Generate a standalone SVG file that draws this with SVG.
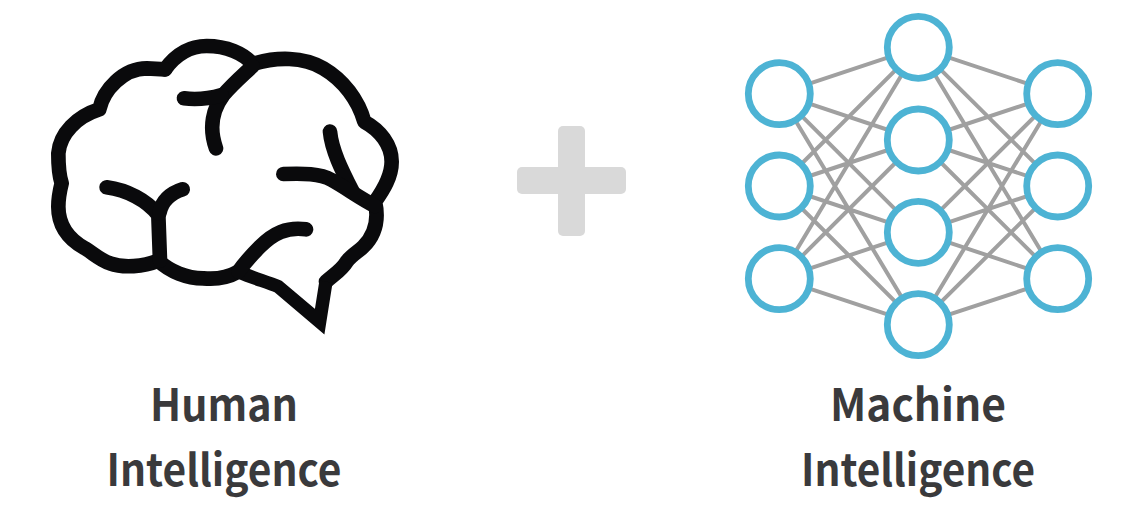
<svg xmlns="http://www.w3.org/2000/svg" width="1146" height="528" viewBox="0 0 1146 528">
<style>
.t{font-family:"Noto Sans CJK KR","Noto Sans",sans-serif;font-weight:700;font-size:44px;fill:#3a3a3c;text-anchor:middle}
.n{fill:#fff;stroke:#4db3d4;stroke-width:6.8}
.c{stroke:#a0a0a0;stroke-width:4;fill:none}
.b{fill:none;stroke:#0a0a0c;stroke-width:44;stroke-linecap:round;stroke-linejoin:round}
</style>
<rect width="1146" height="528" fill="#fff"/>
<g id="brain" transform="translate(30 20) scale(.33333)">
<path class="b" d="M405 148C440 100 480 78 530 78C590 78 640 100 668 132C740 110 820 110 880 145C940 180 985 240 1003 305C1050 330 1085 375 1085 425C1085 470 1060 510 1035 545C1045 590 1040 640 1000 680C985 695 965 705 950 725C935 750 910 765 888 785"/>
<path class="b" d="M625 755C590 775 550 778 520 775C470 775 420 755 385 722C340 740 280 745 240 730C210 720 190 700 165 685C120 660 85 620 85 560C85 535 90 510 95 490C85 460 85 430 85 400C90 340 140 290 208 268C220 210 280 145 350 145L405 148"/>
<path d="M888 785L869 905L745 800C710 785 670 775 625 755" fill="none" stroke="#0a0a0c" stroke-width="40" stroke-linejoin="miter" stroke-miterlimit="10"/>
<path class="b" d="M668 138C640 165 610 190 580 225C550 265 535 320 558 385"/>
<path class="b" d="M462 235C500 240 540 235 575 225"/>
<path class="b" d="M900 335C905 390 935 450 968 515"/>
<path class="b" d="M760 462C820 460 870 460 905 480C950 505 990 535 1035 558"/>
<path class="b" d="M230 502C290 510 350 540 385 585L390 722"/>
<path class="b" d="M458 508C420 520 395 545 388 580"/>
<path class="b" d="M828 628C770 620 730 640 690 680C670 700 650 720 625 755"/>
</g>
<g id="plus" fill="#d9d9d9">
<rect x="558" y="126" width="27" height="110" rx="5"/>
<rect x="517" y="167" width="109" height="27" rx="5"/>
</g>
<g id="connectors">
<path class="c" d="M779.3 93.7L918.3 47.3M779.3 93.7L918.3 140M779.3 93.7L918.3 232.3M779.3 93.7L918.3 324.7M779.3 186L918.3 47.3M779.3 186L918.3 140M779.3 186L918.3 232.3M779.3 186L918.3 324.7M779.3 278.7L918.3 47.3M779.3 278.7L918.3 140M779.3 278.7L918.3 232.3M779.3 278.7L918.3 324.7"/>
<path class="c" d="M1057.7 93.7L918.3 47.3M1057.7 93.7L918.3 140M1057.7 93.7L918.3 232.3M1057.7 93.7L918.3 324.7M1057.7 186L918.3 47.3M1057.7 186L918.3 140M1057.7 186L918.3 232.3M1057.7 186L918.3 324.7M1057.7 278.7L918.3 47.3M1057.7 278.7L918.3 140M1057.7 278.7L918.3 232.3M1057.7 278.7L918.3 324.7"/>
</g>
<g id="n1"><circle class="n" cx="779.3" cy="93.7" r="31"/></g>
<g id="n2"><circle class="n" cx="779.3" cy="186" r="31"/></g>
<g id="n3"><circle class="n" cx="779.3" cy="278.7" r="31"/></g>
<g id="n4"><circle class="n" cx="918.3" cy="47.3" r="31"/></g>
<g id="n5"><circle class="n" cx="918.3" cy="140" r="31"/></g>
<g id="n6"><circle class="n" cx="918.3" cy="232.3" r="31"/></g>
<g id="n7"><circle class="n" cx="918.3" cy="324.7" r="31"/></g>
<g id="n8"><circle class="n" cx="1057.7" cy="93.7" r="31"/></g>
<g id="n9"><circle class="n" cx="1057.7" cy="186" r="31"/></g>
<g id="n10"><circle class="n" cx="1057.7" cy="278.7" r="31"/></g>
<g id="label-human"><text class="t" x="224" y="421" textLength="148" lengthAdjust="spacingAndGlyphs">Human</text><text class="t" x="224" y="486" textLength="235" lengthAdjust="spacingAndGlyphs">Intelligence</text></g>
<g id="label-machine"><text class="t" x="918" y="421" textLength="176" lengthAdjust="spacingAndGlyphs">Machine</text><text class="t" x="918" y="486" textLength="234" lengthAdjust="spacingAndGlyphs">Intelligence</text></g>
</svg>
